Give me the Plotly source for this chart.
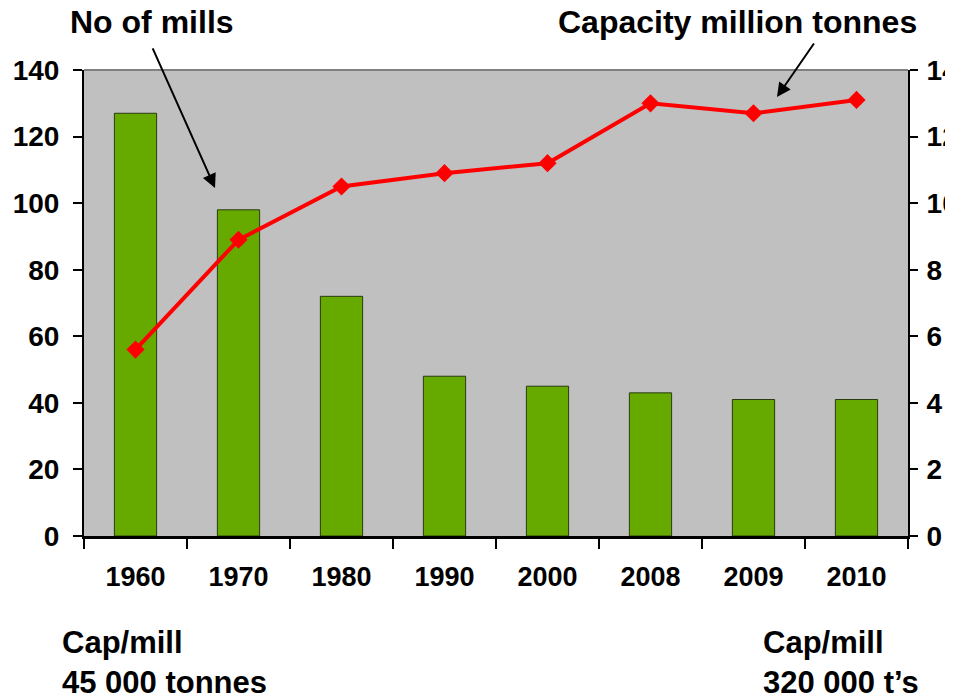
import plotly.graph_objects as go

years = ["1960", "1970", "1980", "1990", "2000", "2008", "2009", "2010"]
mills = [127, 98, 72, 48, 45, 43, 41, 41]
capacity = [5.6, 8.9, 10.5, 10.9, 11.2, 13.0, 12.7, 13.1]
left_ticks = [0, 20, 40, 60, 80, 100, 120, 140]
right_ticks = [0, 2, 4, 6, 8, 10, 12, 14]

FONT = "Arial, Liberation Sans, sans-serif"

fig = go.Figure()
fig.add_trace(go.Bar(
    x=years, y=mills, name="No of mills",
    marker=dict(color="#66AA00", line=dict(color="#2a3a10", width=1)),
    yaxis="y",
))
fig.add_trace(go.Scatter(
    x=years, y=capacity, name="Capacity million tonnes",
    mode="lines+markers",
    line=dict(color="#FF0000", width=4),
    marker=dict(symbol="diamond", size=14, color="#FF0000"),
    yaxis="y2",
))

ytickfont = dict(family=FONT, size=28, color="black", weight="bold")
xtickfont = dict(family=FONT, size=27, color="black", weight="bold")

fig.update_layout(
    width=953, height=698,
    margin=dict(l=76, r=53, t=62, b=170),
    paper_bgcolor="white",
    plot_bgcolor="#C0C0C0",
    showlegend=False,
    bargap=0.59,
    font=dict(family=FONT, color="black"),
    xaxis=dict(
        type="category",
        automargin=False,
        showgrid=False,
        showline=True, linecolor="black", linewidth=3,
        ticks="outside", ticklen=10, tickwidth=2, tickcolor="black",
        tickson="boundaries",
        tickfont=xtickfont,
        ticklabelstandoff=15,
    ),
    yaxis=dict(
        range=[0, 140],
        automargin=False,
        tickvals=left_ticks,
        showgrid=False, zeroline=False,
        showline=True, linecolor="black", linewidth=2,
        ticks="outside", ticklen=9, tickwidth=2, tickcolor="black",
        tickfont=ytickfont,
        ticklabelstandoff=8,
    ),
    yaxis2=dict(
        range=[0, 14],
        automargin=False,
        tickvals=right_ticks,
        overlaying="y", side="right",
        showgrid=False, zeroline=False,
        showline=True, linecolor="black", linewidth=2,
        ticks="outside", ticklen=8, tickwidth=2, tickcolor="black",
        tickfont=ytickfont,
        ticklabelstandoff=3,
    ),
)

# top border of plot area
fig.add_shape(type="line", xref="paper", yref="paper", x0=0, x1=1, y0=1, y1=1,
              line=dict(color="#808080", width=2))

ann_font = dict(family=FONT, size=32, color="black", weight="bold")
note_font = dict(family=FONT, size=31, color="black", weight="bold")

fig.add_annotation(text="No of mills", xref="paper", yref="paper",
                   x=0.082, y=1.103, showarrow=False, font=ann_font,
                   xanchor="center", yanchor="middle")
fig.add_annotation(text="Capacity million tonnes", xref="paper", yref="paper",
                   x=0.7925, y=1.103, showarrow=False, font=ann_font,
                   xanchor="center", yanchor="middle")

# arrows
fig.add_annotation(text="", xref="paper", yref="paper", x=0.159, y=0.747,
                   ax=-63, ay=-141, showarrow=True, arrowhead=2, arrowsize=1.4,
                   arrowwidth=2, arrowcolor="black")
fig.add_annotation(text="", xref="paper", yref="paper", x=0.841, y=0.942,
                   ax=38, ay=-55, showarrow=True, arrowhead=2, arrowsize=1.4,
                   arrowwidth=2, arrowcolor="black")

# bottom notes
for txt, x, y in [("Cap/mill", -0.029, -0.229), ("45 000 tonnes", -0.029, -0.315),
                  ("Cap/mill", 0.822, -0.229), ("320 000 t\u2019s", 0.822, -0.315)]:
    fig.add_annotation(text=txt, xref="paper", yref="paper", x=x, y=y,
                       showarrow=False, font=note_font, xanchor="left", yanchor="middle")

fig.write_html("out.html")
